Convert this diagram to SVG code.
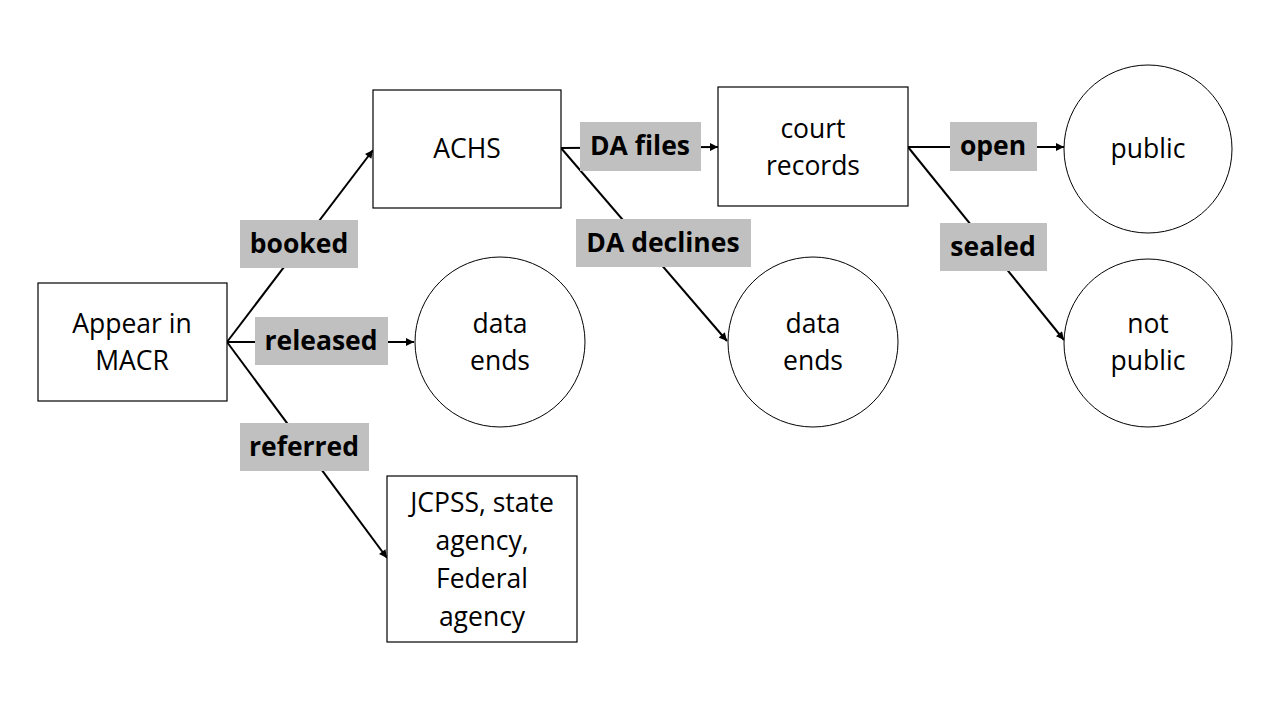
<svg xmlns="http://www.w3.org/2000/svg" width="1280" height="720" viewBox="0 0 1280 720">
<style>
.box{fill:#fff;stroke:#000;stroke-width:1.2}
.circ{fill:#fff;stroke:#000;stroke-width:1}
.t{font-family:"Open Sans","Liberation Sans",Arial,sans-serif;font-size:26.5px;fill:#000;text-anchor:middle}
.edge{stroke:#000;stroke-width:2;fill:none}
.lb{fill:#c0c0c0}
.lt{font-family:"Open Sans","Liberation Sans",Arial,sans-serif;font-size:26.5px;font-weight:bold;fill:#000;text-anchor:middle}
</style>
<defs>
<marker id="arr" viewBox="0 0 10 10" refX="10" refY="5" markerWidth="9" markerHeight="8" markerUnits="userSpaceOnUse" orient="auto">
<path d="M0,0 L10,5 L0,10 z" fill="#000"/>
</marker>
</defs>
<rect width="1280" height="720" fill="#fff"/>
<g id="connectors">
<line class="edge" x1="227" y1="342" x2="373" y2="150" marker-end="url(#arr)"/>
<line class="edge" x1="227" y1="342" x2="414" y2="342" marker-end="url(#arr)"/>
<line class="edge" x1="227" y1="342" x2="387" y2="558" marker-end="url(#arr)"/>
<line class="edge" x1="561" y1="148" x2="718" y2="147" marker-end="url(#arr)"/>
<line class="edge" x1="561" y1="148" x2="727" y2="341" marker-end="url(#arr)"/>
<line class="edge" x1="908" y1="147" x2="1064" y2="147" marker-end="url(#arr)"/>
<line class="edge" x1="908" y1="147" x2="1064" y2="340" marker-end="url(#arr)"/>
<g id="label-booked"><rect class="lb" x="240" y="220" width="118" height="48"/><text class="lt" x="299" y="253">booked</text></g>
<g id="label-released"><rect class="lb" x="255" y="317" width="133" height="48"/><text class="lt" x="321" y="350">released</text></g>
<g id="label-referred"><rect class="lb" x="240" y="423" width="129" height="48"/><text class="lt" x="304" y="456">referred</text></g>
<g id="label-dafiles"><rect class="lb" x="580" y="122" width="121" height="49"/><text class="lt" x="640" y="155">DA files</text></g>
<g id="label-dadeclines"><rect class="lb" x="576" y="219" width="175" height="48"/><text class="lt" x="663" y="252">DA declines</text></g>
<g id="label-open"><rect class="lb" x="950" y="122" width="87" height="49"/><text class="lt" x="993" y="155">open</text></g>
<g id="label-sealed"><rect class="lb" x="940" y="223" width="107" height="48"/><text class="lt" x="993" y="256">sealed</text></g>
</g>
<g id="macr"><rect class="box" x="38" y="283" width="189" height="118"/><text class="t" x="132" y="333">Appear in</text><text class="t" x="132" y="370">MACR</text></g>
<g id="achs"><rect class="box" x="373" y="90" width="188" height="118"/><text class="t" x="467" y="158">ACHS</text></g>
<g id="court"><rect class="box" x="718" y="87" width="190" height="119"/><text class="t" x="813" y="138">court</text><text class="t" x="813" y="175">records</text></g>
<g id="jcpss"><rect class="box" x="387" y="476" width="190" height="166"/><text class="t" x="482" y="512">JCPSS, state</text><text class="t" x="482" y="550">agency,</text><text class="t" x="482" y="588">Federal</text><text class="t" x="482" y="626">agency</text></g>
<g id="dataends1"><circle class="circ" cx="500" cy="342" r="85"/><text class="t" x="500" y="333">data</text><text class="t" x="500" y="370">ends</text></g>
<g id="dataends2"><circle class="circ" cx="813" cy="342" r="85"/><text class="t" x="813" y="333">data</text><text class="t" x="813" y="370">ends</text></g>
<g id="public"><circle class="circ" cx="1148" cy="149" r="84"/><text class="t" x="1148" y="158">public</text></g>
<g id="notpublic"><circle class="circ" cx="1148" cy="343" r="84"/><text class="t" x="1148" y="333">not</text><text class="t" x="1148" y="370">public</text></g>
</svg>
